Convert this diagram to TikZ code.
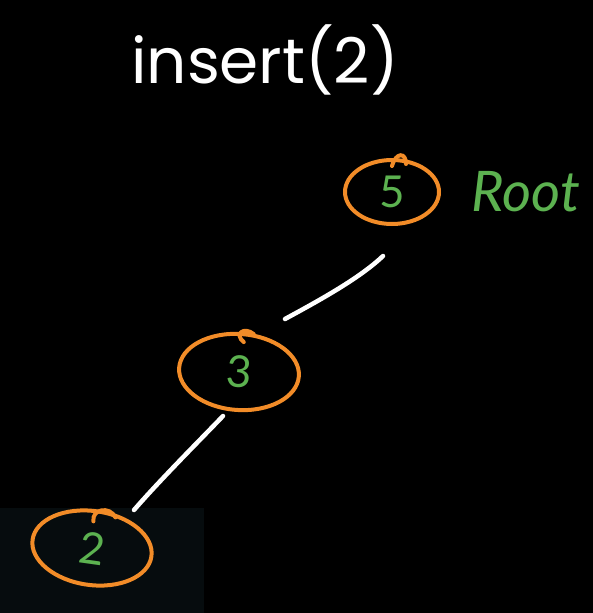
\documentclass[tikz,border=0pt]{standalone}
\usepackage{fontspec}
\setmainfont{Poppins}
\newfontfamily\handfont{Lato}
\usetikzlibrary{shapes.geometric,calc}
\definecolor{bstorange}{RGB}{242,140,40}
\definecolor{bstgreen}{RGB}{92,178,80}
\definecolor{panel}{RGB}{6,12,14}
\tikzset{
  treenode/.style={draw=bstorange, line width=4pt, ellipse, inner sep=0pt, text=bstgreen, font=\handfont\fontsize{44}{44}\selectfont},
  treeedge/.style={draw=white, line width=4.5pt, line cap=round},
  hook/.style={draw=bstorange, line width=4pt, line cap=round}
}
\begin{document}
\begin{tikzpicture}[x=1pt,y=-1pt]
\fill[black] (0,0) rectangle (593,613);
\useasboundingbox (0,0) rectangle (593,613);
\fill[panel] (0,508) rectangle (204,613);
\node[text=white, font=\fontsize{63}{63}\selectfont] (title) at (265,60) {insert(2)};
\node[treenode, minimum width=94pt, minimum height=64pt] (n5) at (392,192) {5};
\node[treenode, minimum width=120pt, minimum height=76pt, rotate=-4] (n3) at (239,372) {3};
\node[treenode, minimum width=120pt, minimum height=74pt, rotate=-8] (n2) at (92,548) {2};
\node[text=bstgreen, font=\handfont\itshape\fontsize{56}{56}\selectfont, anchor=west] (root) at (468,192) {Root};
% hooks of the hand-drawn circles
\draw[hook] ($(n5.north)+(0,8)$) .. controls ($(n5.north)+(4,-6)$) and ($(n5.north)+(14,-6)$) .. ($(n5.north)+(14,6)$);
\draw[hook] ($(n3.north)+(2,10)$) .. controls ($(n3.north)+(-8,2)$) and ($(n3.north)+(2,-6)$) .. ($(n3.north)+(12,2)$);
\draw[hook] ($(n2.north)+(-4,12)$) .. controls ($(n2.north)+(-6,0)$) and ($(n2.north)+(12,-4)$) .. ($(n2.north)+(18,8)$);
% edges
\coordinate (e5s) at (383,256);
\coordinate (e3t) at (285,319);
\coordinate (e3s) at (223,416);
\coordinate (e2t) at (134,510);
\draw[treeedge] (e5s) .. controls (360,278) and (320,300) .. (e3t);
\draw[treeedge] (e3s) .. controls (200,440) and (160,480) .. (e2t);
\end{tikzpicture}
\end{document}
